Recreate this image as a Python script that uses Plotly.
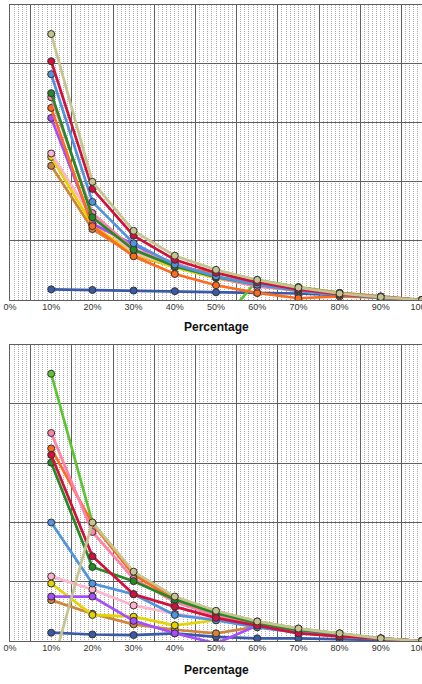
import plotly.graph_objects as go

# ---------------- data ----------------
pct = [10, 20, 30, 40, 50, 60, 70, 80, 90, 100]
tick_vals = [0, 10, 20, 30, 40, 50, 60, 70, 80, 90, 100]
tick_text = ["0%", "10%", "20%", "30%", "40%", "50%", "60%", "70%", "80%", "90%", "100%"]

series_names = ["dark blue", "light green", "brown", "yellow", "light pink", "purple",
                "orange", "pink", "dark green", "blue", "red", "khaki"]
series_colors = ["#3a5aa8", "#5cc433", "#d2843c", "#e4d400", "#ffb3cd", "#a64dff",
                 "#ff6a1c", "#ff80a8", "#238b23", "#4f94e0", "#d30f3c", "#c6c58f"]

top_values = {
    "dark blue":   [1.8, 1.7, 1.6, 1.5, 1.3, 1.2, 1.1, 0.8, 0.4, 0],
    "light green": [-5, -5, -5, -5, -5, 3.4, 2.2, 1.2, 0.6, 0],
    "brown":       [22.7, 12.0, 7.6, 5.6, 4.6, 2.9, 2.1, 1.2, 0.6, 0],
    "yellow":      [24.2, 12.7, 7.8, 5.5, 3.7, 2.4, 1.5, 0.9, 0.4, 0],
    "light pink":  [24.8, 13.9, 8.0, 5.8, 3.9, 2.4, 1.6, 0.9, 0.4, 0],
    "purple":      [30.8, 12.9, 9.4, 5.9, 3.9, 2.5, 1.6, 0.9, 0.4, 0],
    "orange":      [32.5, 12.5, 7.4, 4.4, 2.5, 1.2, 0.3, 0.6, 0.4, 0],
    "pink":        [34.3, 14.7, 8.6, 6.3, 3.8, 2.25, 1.7, 1.0, 0.5, 0],
    "dark green":  [35.0, 14.0, 8.5, 5.7, 3.9, 2.6, 1.7, 0.9, 0.4, 0],
    "blue":        [38.2, 16.6, 9.6, 6.0, 4.0, 2.6, 1.6, 0.9, 0.4, 0],
    "red":         [40.4, 18.8, 10.9, 6.8, 4.6, 3.0, 1.8, 1.0, 0.5, 0],
    "khaki":       [45.0, 20.0, 11.7, 7.5, 5.1, 3.4, 2.1, 1.1, 0.5, 0],
}

bottom_values = {
    "dark blue":   [1.4, 1.1, 1.0, 1.3, 0.7, 0.45, 0.45, 0.3, 0.2, 0],
    "light green": [45.1, 20.0, 11.5, 7.3, 5.0, 3.3, 2.1, 1.3, 0.45, 0],
    "brown":       [6.9, 4.6, 2.8, 1.9, 1.3, 2.4, 1.4, 0.75, 0.4, 0],
    "yellow":      [9.7, 4.4, 4.1, 2.65, 3.5, 2.5, 1.5, 0.9, 0.4, 0],
    "light pink":  [10.9, 8.7, 6.0, 4.6, 3.6, 2.5, 1.5, 0.9, 0.4, 0],
    "purple":      [7.5, 7.5, 3.4, 1.3, -0.4, 2.6, 1.5, 0.9, 0.4, 0],
    "orange":      [32.5, 19.8, 11.2, 7.0, 4.6, 3.0, 1.8, 1.0, 0.4, 0],
    "pink":        [35.1, 18.4, 10.5, 6.6, 4.3, 2.8, 1.7, 1.0, 0.45, 0],
    "dark green":  [30.1, 12.5, 10.1, 7.0, 4.7, 3.0, 1.8, 1.0, 0.4, 0],
    "blue":        [20.0, 9.7, 7.9, 4.4, 3.5, 2.3, 1.4, 0.8, 0.4, 0],
    "red":         [31.4, 14.3, 7.9, 5.8, 3.9, 2.6, 1.3, 0.8, 0.4, 0],
    "khaki":       [-5, 20.0, 11.7, 7.5, 5.1, 3.3, 2.1, 1.3, 0.45, 0],
}

axis_title = "Percentage"

# ---------------- figure ----------------
fig = go.Figure()

for values, xa, ya in [(top_values, "x", "y"), (bottom_values, "x2", "y2")]:
    for name, color in zip(series_names, series_colors):
        fig.add_trace(go.Scatter(
            x=pct, y=values[name], name=name, mode="lines+markers",
            xaxis=xa, yaxis=ya,
            line=dict(color=color, width=2.7),
            marker=dict(size=7, color=color, line=dict(color="#333333", width=1)),
            showlegend=False, hoverinfo="skip",
        ))

# empty traces to register the label (overlay) axes
fig.add_trace(go.Scatter(x=[], y=[], xaxis="x3", yaxis="y", showlegend=False))
fig.add_trace(go.Scatter(x=[], y=[], xaxis="x4", yaxis="y2", showlegend=False))

GRID = "#5f5f5f"
MINOR = "#ababab"

def grid_xaxis(anchor):
    return dict(
        anchor=anchor, domain=[0, 1], range=[0, 100], automargin=False,
        tickmode="linear", tick0=5, dtick=10,
        showgrid=True, gridcolor=GRID, gridwidth=1.3,
        showticklabels=False, ticks="", zeroline=False,
        showline=True, linecolor=GRID, linewidth=1.3, mirror=True,
        minor=dict(tick0=0, dtick=1, showgrid=True, gridcolor=MINOR,
                   griddash="1px,1px", gridwidth=1, ticks=""),
    )

def label_xaxis(over, anchor):
    return dict(
        overlaying=over, anchor=anchor, range=[0, 100], automargin=False,
        tickmode="array", tickvals=tick_vals, ticktext=tick_text,
        showgrid=False, zeroline=False, ticks="", showline=False,
        ticklabeloverflow="allow",
        tickfont=dict(family="Liberation Sans, Arial", size=9, color="#333333"),
    )

def yaxis(anchor, dom):
    return dict(
        anchor=anchor, domain=dom, range=[0, 50], automargin=False,
        tickmode="linear", tick0=0, dtick=10,
        showgrid=True, gridcolor=GRID, gridwidth=1.3,
        showticklabels=False, ticks="", zeroline=False,
        showline=True, linecolor=GRID, linewidth=1.3, mirror=True,
    )

H = 684
top_dom = [(H - 300) / H, (H - 4.5) / H]
bot_dom = [(H - 641) / H, (H - 344.7) / H]

fig.update_layout(
    width=422, height=684,
    margin=dict(l=10, r=0, t=0, b=0, autoexpand=False),
    paper_bgcolor="white", plot_bgcolor="white",
    showlegend=False,
    xaxis=grid_xaxis("y"),
    yaxis=yaxis("x", top_dom),
    xaxis2=grid_xaxis("y2"),
    yaxis2=yaxis("x2", bot_dom),
    xaxis3=label_xaxis("x", "y"),
    xaxis4=label_xaxis("x2", "y2"),
    annotations=[
        dict(text="<b>%s</b>" % axis_title, xref="paper", yref="paper",
             x=0.5, y=(H - 327) / H, xanchor="center", yanchor="middle",
             showarrow=False, font=dict(family="Liberation Sans, Arial", size=12, color="#111111")),
        dict(text="<b>%s</b>" % axis_title, xref="paper", yref="paper",
             x=0.5, y=(H - 670) / H, xanchor="center", yanchor="middle",
             showarrow=False, font=dict(family="Liberation Sans, Arial", size=12, color="#111111")),
    ],
)

fig.write_html("out.html")
